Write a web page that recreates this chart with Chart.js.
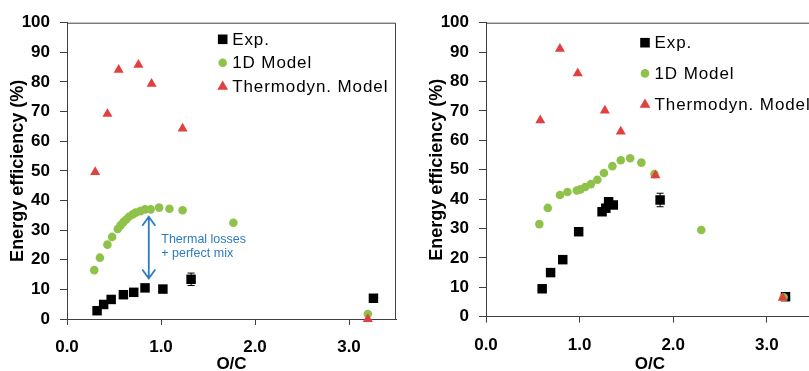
<!DOCTYPE html>
<html>
<head>
<meta charset="utf-8">
<script src="https://cdn.jsdelivr.net/npm/chart.js@4.4.0/dist/chart.umd.min.js"></script>
<style>
  html, body { margin: 0; padding: 0; background: #fff; overflow: hidden; }
  #wrap { position: relative; width: 809px; height: 371px; overflow: hidden; }
  #leftBox { position: absolute; left: 0; top: 0; width: 410px; height: 371px; }
  #rightBox { position: absolute; left: 410px; top: 0; width: 420px; height: 371px; }
</style>
</head>
<body>
<div id="wrap">
  <div id="leftBox"><canvas id="leftChart"></canvas></div>
  <div id="rightBox"><canvas id="rightChart"></canvas></div>
</div>
<script>
const legendLabels = ['Exp.', '1D Model', 'Thermodyn. Model'];
const xTickValues = [0, 1, 2, 3];

// left panel
const leftExpX = [0.32, 0.39, 0.47, 0.60, 0.71, 0.83, 1.02, 1.32, 3.26];
const leftExpY = [2.8, 4.9, 6.6, 8.2, 9.0, 10.5, 10.1, 13.4, 7.0];
const leftExpErr = [0.5, 0.5, 0.5, 0.5, 0.6, 0.8, 0.8, 2.1, 0.4];
const left1DX = [0.29, 0.35, 0.43, 0.48, 0.54, 0.57, 0.60, 0.63, 0.66, 0.70, 0.73, 0.78, 0.83, 0.89, 0.98, 1.09, 1.23, 1.77, 3.20];
const left1DY = [16.5, 20.7, 25.1, 27.7, 30.4, 31.6, 32.7, 33.6, 34.5, 35.3, 35.9, 36.4, 37.0, 37.0, 37.6, 37.2, 36.7, 32.5, 1.7];
const leftThX = [0.30, 0.43, 0.55, 0.76, 0.90, 1.23, 3.20];
const leftThY = [49.6, 69.2, 84.1, 85.8, 79.4, 64.3, 0.0];
const leftNote = ['Thermal losses', '+ perfect mix'];
const leftArrow = { x: 0.87, yFrom: 13.7, yTo: 34.5 };

// right panel
const rightExpX = [0.60, 0.69, 0.82, 0.99, 1.24, 1.28, 1.31, 1.36, 1.86, 3.20];
const rightExpY = [9.5, 15.0, 19.4, 28.9, 35.7, 36.9, 39.1, 38.0, 39.7, 6.8];
const rightExpErr = [0.4, 0.4, 0.5, 1.0, 1.0, 1.0, 1.0, 1.0, 2.3, 0.4];
const right1DX = [0.57, 0.66, 0.79, 0.87, 0.97, 1.01, 1.06, 1.12, 1.19, 1.26, 1.35, 1.44, 1.54, 1.66, 1.80, 2.30, 3.18];
const right1DY = [31.5, 37.0, 41.4, 42.4, 42.9, 43.3, 44.1, 45.1, 46.6, 48.9, 51.2, 53.2, 53.9, 52.4, 48.5, 29.5, 6.6];
const rightThX = [0.58, 0.79, 0.98, 1.27, 1.44, 1.81, 3.17];
const rightThY = [66.8, 91.1, 82.8, 70.1, 63.0, 48.1, 6.4];

const BLACK = '#000000';
const GREEN = '#8fc24a';
const RED = '#e2403e';
const AXIS = '#404040';

const pts = (xs, ys) => xs.map((x, i) => ({ x: x, y: ys[i] }));

function drawMarker(ctx, style, x, y, color) {
  ctx.save();
  ctx.fillStyle = color;
  ctx.beginPath();
  if (style === 'rect') {
    ctx.rect(x - 4.8, y - 4.8, 9.6, 9.6);
  } else if (style === 'circle') {
    ctx.arc(x, y, 4.3, 0, Math.PI * 2);
  } else {
    ctx.moveTo(x, y - 5.5);
    ctx.lineTo(x + 5.4, y + 3.6);
    ctx.lineTo(x - 5.4, y + 3.6);
    ctx.closePath();
  }
  ctx.fill();
  ctx.restore();
}

// frame, error bars, legend and note
const extras = {
  id: 'extras',
  beforeDatasetsDraw(chart) {
    const { ctx, scales: { x, y } } = chart;
    const cfg = chart.options.plugins.extras;
    ctx.save();
    ctx.strokeStyle = '#000';
    ctx.lineWidth = 1;
    cfg.errX.forEach((v, i) => {
      const px = x.getPixelForValue(v);
      const top = y.getPixelForValue(cfg.errY[i] + cfg.err[i]);
      const bot = y.getPixelForValue(cfg.errY[i] - cfg.err[i]);
      ctx.beginPath();
      ctx.moveTo(px, top); ctx.lineTo(px, bot);
      ctx.moveTo(px - 3.5, top); ctx.lineTo(px + 3.5, top);
      ctx.moveTo(px - 3.5, bot); ctx.lineTo(px + 3.5, bot);
      ctx.stroke();
    });
    ctx.restore();
  },
  afterDraw(chart) {
    const { ctx, chartArea: a, scales: { x, y } } = chart;
    const cfg = chart.options.plugins.extras;
    ctx.save();
    ctx.strokeStyle = AXIS;
    ctx.lineWidth = 1;
    ctx.beginPath();
    ctx.moveTo(a.left, a.top + 0.5);
    ctx.lineTo(a.right - 0.5, a.top + 0.5);
    ctx.lineTo(a.right - 0.5, a.bottom);
    ctx.stroke();

    // legend
    const styles = ['rect', 'circle', 'triangle'];
    const colors = [BLACK, GREEN, RED];
    ctx.font = '17px "Liberation Sans", Arial, sans-serif';
    ctx.letterSpacing = '0.9px';
    ctx.textBaseline = 'middle';
    legendLabels.forEach((t, i) => {
      const ly = cfg.legendY + i * cfg.legendStep;
      drawMarker(ctx, styles[i], cfg.legendX, ly, colors[i]);
      ctx.fillStyle = '#000';
      ctx.fillText(t, cfg.legendX + 9.5, ly + 1);
    });
    ctx.letterSpacing = '0px';

    if (cfg.arrow) {
      const ax = x.getPixelForValue(cfg.arrow.x);
      const y1 = y.getPixelForValue(cfg.arrow.yFrom);
      const y2 = y.getPixelForValue(cfg.arrow.yTo);
      ctx.strokeStyle = '#2b7cc2';
      ctx.lineWidth = 1.8;
      ctx.beginPath();
      ctx.moveTo(ax, y1); ctx.lineTo(ax, y2);
      ctx.moveTo(ax - 6.5, y2 + 9); ctx.lineTo(ax, y2); ctx.lineTo(ax + 6.5, y2 + 9);
      ctx.moveTo(ax - 6.5, y1 - 9); ctx.lineTo(ax, y1); ctx.lineTo(ax + 6.5, y1 - 9);
      ctx.stroke();
      ctx.fillStyle = '#2b7cc2';
      ctx.font = '12.5px "Liberation Sans", Arial, sans-serif';
      ctx.textAlign = 'left';
      cfg.note.forEach((t, i) => ctx.fillText(t, ax + 12.5, (y1 + y2) / 2 + (i - 0.5) * 14 - 1));
    }
    ctx.restore();
  }
};

function makeChart(id, d) {
  return new Chart(document.getElementById(id), {
    type: 'scatter',
    data: {
      datasets: [
        { label: legendLabels[0], data: pts(d.expX, d.expY), pointStyle: 'rect', pointRadius: 6.7, pointHoverRadius: 6.7,
          backgroundColor: BLACK, borderColor: BLACK, pointBorderWidth: 0, order: 3, clip: false },
        { label: legendLabels[1], data: pts(d.oneX, d.oneY), pointStyle: 'circle', pointRadius: 4.3, pointHoverRadius: 4.3,
          backgroundColor: GREEN, borderColor: GREEN, pointBorderWidth: 0, order: 2, clip: false },
        { label: legendLabels[2], data: pts(d.thX, d.thY), pointStyle: 'triangle', pointRadius: 5.8, pointHoverRadius: 5.8,
          backgroundColor: RED, borderColor: RED, pointBorderWidth: 0, order: 1, clip: false }
      ]
    },
    options: {
      responsive: true,
      maintainAspectRatio: false,
      animation: false,
      events: [],
      layout: { padding: { left: 0, right: d.padRight, top: 22.7, bottom: 0 } },
      plugins: {
        legend: { display: false },
        tooltip: { enabled: false },
        extras: {
          errX: d.expX, errY: d.expY, err: d.expErr,
          legendX: d.legendX, legendY: d.legendY, legendStep: d.legendStep,
          arrow: d.arrow, note: d.note
        }
      },
      scales: {
        x: {
          type: 'linear', min: 0, max: 3.5,
          afterBuildTicks: s => { s.ticks = xTickValues.map(v => ({ value: v })); },
          afterFit: s => { s.height = d.xHeight; },
          border: { display: true, color: AXIS, width: 1 },
          grid: { drawOnChartArea: false, drawTicks: true, tickLength: 6, color: AXIS },
          ticks: { color: '#000', padding: 12, maxRotation: 0, font: { family: '"Liberation Sans", Arial, sans-serif', size: 17, weight: 'bold' },
            callback: v => v.toFixed(1) },
          title: { display: true, text: 'O/C', color: '#000', padding: { top: 0, bottom: -4 },
            font: { family: '"Liberation Sans", Arial, sans-serif', size: 17, weight: 'bold' } }
        },
        y: {
          min: 0, max: 100,
          afterFit: s => { s.width = d.yWidth; },
          border: { display: true, color: AXIS, width: 1 },
          grid: { drawOnChartArea: false, drawTicks: true, tickLength: 7, color: AXIS },
          ticks: { stepSize: 10, color: '#000', padding: 10, font: { family: '"Liberation Sans", Arial, sans-serif', size: 17, weight: 'bold' } },
          title: { display: true, text: 'Energy efficiency (%)', color: '#000', padding: { top: d.yTitlePad, bottom: 0 },
            font: { family: '"Liberation Sans", Arial, sans-serif', size: 18, weight: 'bold' } }
        }
      }
    },
    plugins: [extras]
  });
}

makeChart('leftChart', {
  expX: leftExpX, expY: leftExpY, expErr: leftExpErr,
  oneX: left1DX, oneY: left1DY, thX: leftThX, thY: leftThY,
  padRight: 14, xHeight: 52, yWidth: 67, yTitlePad: 7,
  legendX: 222.7, legendY: 39.3, legendStep: 23.4,
  arrow: leftArrow, note: leftNote
});

makeChart('rightChart', {
  expX: rightExpX, expY: rightExpY, expErr: rightExpErr,
  oneX: right1DX, oneY: right1DY, thX: rightThX, thY: rightThY,
  padRight: 16.4, xHeight: 54.3, yWidth: 76, yTitlePad: 16,
  legendX: 235, legendY: 42.7, legendStep: 30.7,
  arrow: null, note: []
});
</script>
</body>
</html>
